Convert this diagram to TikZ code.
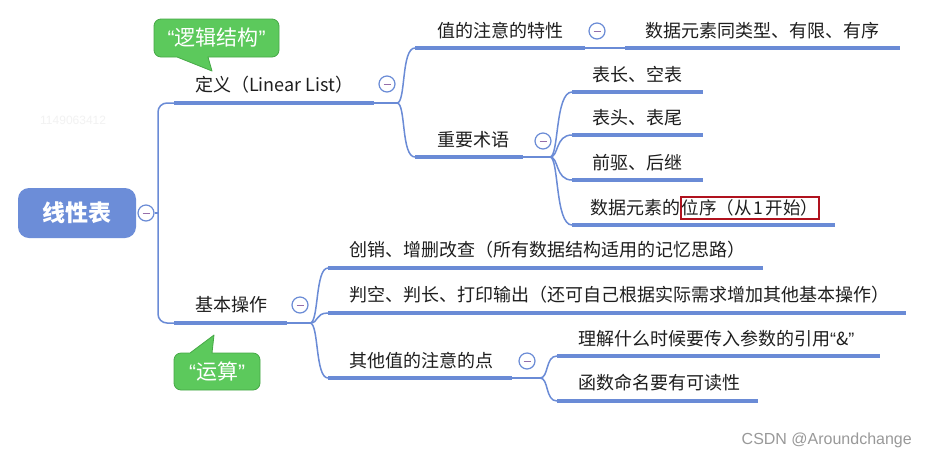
\documentclass[tikz,border=0pt]{standalone}
\usepackage{fontspec}
\setmainfont{Noto Sans CJK SC}
\newfontfamily\latinsans{Liberation Sans}
\newcommand\myoq{{\latinsans “}}
\newcommand\mycq{{\latinsans ”}}
\definecolor{lineblue}{RGB}{106,139,214}
\definecolor{rootblue}{RGB}{108,141,216}
\definecolor{calloutgreen}{RGB}{92,201,92}
\definecolor{calloutborder}{RGB}{70,168,70}
\definecolor{boxred}{RGB}{176,18,30}
\definecolor{txt}{RGB}{30,30,30}
\definecolor{minusc}{RGB}{150,110,170}
\tikzset{
  lbl/.style={anchor=west, inner sep=0pt, text=txt, font=\fontsize{18}{21}\selectfont},
  uline/.style={draw=lineblue, line width=4.5pt},
  conn/.style={draw=lineblue, line width=1.5pt},
  fold/.style={circle, draw=lineblue, line width=1.2pt, fill=white, minimum size=16pt, inner sep=0pt,
    path picture={\draw[minusc, line width=1pt] ([xshift=-3.5pt]path picture bounding box.center) -- ([xshift=3.5pt]path picture bounding box.center);}},
  rootbox/.style={rectangle, rounded corners=11pt, fill=rootblue, text=white, minimum width=118pt, minimum height=50pt, font=\fontsize{23}{27}\selectfont\bfseries},
  callshape/.style={fill=calloutgreen, draw=calloutborder, line width=0.8pt, line join=round},
  calltext/.style={text=white, inner sep=0pt, font=\fontsize{21}{24}\selectfont},
}
\begin{document}
\begin{tikzpicture}[x=1pt,y=-1pt]
\useasboundingbox (0,0) rectangle (926,459);
\fill[white] (0,0) rectangle (926,459);

% watermark
\node[text=black!5, font=\latinsans\fontsize{12}{14}\selectfont, anchor=west, inner sep=0pt] (wm) at (40,120) {1149063412};
\node[text=black!40, font=\latinsans\fontsize{16}{18}\selectfont, anchor=east, inner sep=0pt] (csdn) at (912,440) {CSDN @Aroundchange};

% root
\node[rootbox] (root) at (77,213) {线性表};
\node[fold] (rootf) at (146,213) {};
\coordinate (trunk) at (158,213);
\draw[conn] (rootf) -- (trunk);

% level 1 coordinates
\coordinate (defL) at (174,103); \coordinate (defR) at (374,103); \coordinate (defJ) at (397,103);
\coordinate (opL) at (174,323); \coordinate (opR) at (287,323); \coordinate (opJ) at (310,323);
\draw[conn, rounded corners=9pt] (defL) -| (trunk) |- (opL);

% definition
\node[lbl] (def) at (195,85) {定义（Linear List）};
\draw[uline] (defL) -- (defR);
\draw[conn] (defR) -- (defJ);
\node[fold] (deff) at (387,84) {};

% attribute
\coordinate (attrL) at (415,48); \coordinate (attrR) at (585,48);
\coordinate (dataL) at (625,48); \coordinate (dataR) at (900,48);
\node[lbl] (attr) at (437,31) {值的注意的特性};
\draw[uline] (attrL) -- (attrR);
\draw[conn] (attrR) -- (dataL);
\node[fold] (attrf) at (597,31) {};
\node[lbl] (data) at (645,31) {数据元素同类型、有限、有序};
\draw[uline] (dataL) -- (dataR);
\draw[conn] (defJ) .. controls (406,103) and (401,48) .. (attrL);

% terms
\coordinate (termL) at (415,157); \coordinate (termR) at (523,157); \coordinate (termJ) at (550,157);
\node[lbl] (term) at (437,140) {重要术语};
\draw[uline] (termL) -- (termR);
\draw[conn] (termR) -- (termJ);
\node[fold] (termf) at (543,141) {};
\draw[conn] (defJ) .. controls (406,103) and (401,157) .. (termL);

\coordinate (tAL) at (572,92);  \coordinate (tAR) at (703,92);
\coordinate (tBL) at (572,135); \coordinate (tBR) at (703,135);
\coordinate (tCL) at (572,180); \coordinate (tCR) at (703,180);
\coordinate (tDL) at (572,225); \coordinate (tDR) at (835,225);
\node[lbl] (tA) at (592,75) {表长、空表};
\node[lbl] (tB) at (592,118) {表头、表尾};
\node[lbl] (tC) at (592,163) {前驱、后继};
\node[lbl] (tD) at (590,208) {数据元素的};
\node[lbl, draw=boxred, line width=2pt, inner xsep=0.5pt, inner ysep=3pt, anchor=west, font=\fontsize{17.5}{21}\selectfont] (tDpos) at (tD.east) {位序（从\hspace{2pt}1\hspace{2pt}开始）};
\foreach \a/\b in {tAL/tAR,tBL/tBR,tCL/tCR,tDL/tDR} {\draw[uline] (\a) -- (\b);}
\draw[conn] (termJ) .. controls (559,157) and (555,92) .. (tAL);
\draw[conn] (termJ) .. controls (559,157) and (555,135) .. (tBL);
\draw[conn] (termJ) .. controls (559,157) and (555,180) .. (tCL);
\draw[conn] (termJ) .. controls (559,157) and (555,225) .. (tDL);

% operations
\node[lbl] (ops) at (195,305) {基本操作};
\draw[uline] (opL) -- (opR);
\draw[conn] (opR) -- (opJ);
\node[fold] (opsf) at (300,305) {};

\coordinate (oAL) at (328,268); \coordinate (oAR) at (763,268);
\coordinate (oBL) at (328,313); \coordinate (oBR) at (906,313);
\coordinate (oCL) at (328,378); \coordinate (oCR) at (512,378); \coordinate (oCJ) at (540,378);
\node[lbl] (oA) at (349,250) {创销、增删改查（所有数据结构适用的记忆思路）};
\node[lbl] (oB) at (349,295) {判空、判长、打印输出（还可自己根据实际需求增加其他基本操作）};
\node[lbl] (oC) at (349,361) {其他值的注意的点};
\foreach \a/\b in {oAL/oAR,oBL/oBR,oCL/oCR} {\draw[uline] (\a) -- (\b);}
\draw[conn] (oCR) -- (oCJ);
\node[fold] (oCf) at (527,361) {};
\draw[conn] (opJ) .. controls (319,323) and (315,268) .. (oAL);
\draw[conn] (opJ) .. controls (319,323) and (315,313) .. (oBL);
\draw[conn] (opJ) .. controls (319,323) and (315,378) .. (oCL);

\coordinate (pAL) at (557,356); \coordinate (pAR) at (880,356);
\coordinate (pBL) at (557,401); \coordinate (pBR) at (758,401);
\node[lbl] (pA) at (578,339) {理解什么时候要传入参数的引用\myoq\&\mycq};
\node[lbl] (pB) at (578,383) {函数命名要有可读性};
\foreach \a/\b in {pAL/pAR,pBL/pBR} {\draw[uline] (\a) -- (\b);}
\draw[conn] (oCJ) .. controls (549,378) and (545,356) .. (pAL);
\draw[conn] (oCJ) .. controls (549,378) and (545,401) .. (pBL);

% callouts
\draw[callshape] (212,71) -- (177,57) [rounded corners=7pt] -- (154,57) -- (154,19) -- (279,19) -- (279,57) [sharp corners] -- (208,57) -- cycle;
\node[calltext] (cLogic) at (216.5,38) {\myoq 逻辑结构\mycq};
\draw[callshape] (214,335) -- (212,353) [rounded corners=7pt] -- (260,353) -- (260,390) -- (174,390) -- (174,353) [sharp corners] -- (190,353) -- cycle;
\node[calltext] (cCalc) at (217,371.5) {\myoq 运算\mycq};
\end{tikzpicture}
\end{document}
